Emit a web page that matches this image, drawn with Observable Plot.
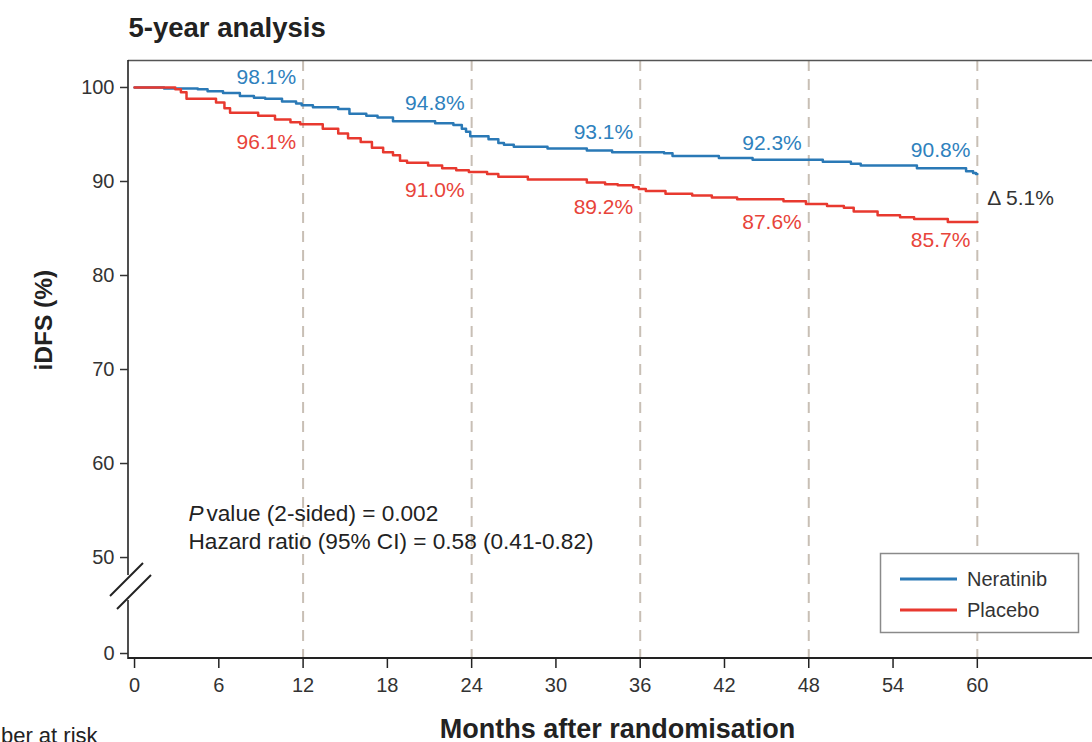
<!DOCTYPE html>
<html>
<head>
<meta charset="utf-8">
<script src="https://cdn.jsdelivr.net/npm/d3@7"></script>
<script src="https://cdn.jsdelivr.net/npm/@observablehq/plot@0.6"></script>
<style>
  html, body { margin: 0; padding: 0; background: #fff; overflow: hidden; }
  #chart { width: 1092px; height: 742px; overflow: hidden; }
</style>
</head>
<body>
<div id="chart"></div>
<script>
// Kaplan–Meier step points: month at which each step starts, iDFS (%) from then on
const neratinibMonths = [0, 2.1, 4.5, 5.2, 6.3, 7.5, 8.5, 9.3, 10.5, 11.5, 11.9, 12.7, 14.5, 15.3, 16.5, 17.3, 18.4, 21.4, 22.7, 23.3, 23.6, 23.9, 25.2, 25.9, 26.3, 27.0, 29.4, 32.2, 34.0, 37.7, 38.3, 41.6, 44.0, 49.0, 51.0, 51.7, 55.7, 59.2, 59.7, 59.9, 60];
const neratinibIDFS   = [100, 99.9, 99.8, 99.6, 99.4, 99.1, 98.9, 98.8, 98.5, 98.3, 98.1, 97.9, 97.7, 97.2, 97.0, 96.8, 96.4, 96.2, 96.0, 95.6, 95.3, 94.8, 94.5, 94.1, 93.9, 93.7, 93.5, 93.3, 93.1, 93.0, 92.7, 92.5, 92.3, 92.1, 91.9, 91.7, 91.4, 91.1, 90.9, 90.8, 90.8];

const placeboMonths = [0, 2.9, 3.3, 3.7, 5.8, 6.4, 6.8, 8.8, 10.0, 11.1, 11.8, 13.4, 14.5, 15.2, 16.1, 16.9, 17.7, 18.4, 18.9, 19.4, 20.9, 21.9, 22.9, 23.8, 25.1, 25.9, 28.0, 32.2, 33.5, 34.4, 35.5, 35.9, 36.4, 37.8, 39.7, 41.1, 42.9, 46.2, 47.8, 49.3, 50.5, 51.2, 52.9, 54.5, 55.5, 57.9, 60];
const placeboIDFS   = [100, 99.8, 99.5, 98.8, 98.4, 97.8, 97.3, 97.0, 96.6, 96.3, 96.1, 95.6, 95.1, 94.6, 94.2, 93.6, 93.1, 92.8, 92.2, 92.0, 91.7, 91.4, 91.2, 91.0, 90.8, 90.5, 90.2, 89.9, 89.7, 89.6, 89.4, 89.2, 89.0, 88.7, 88.5, 88.3, 88.1, 87.9, 87.6, 87.4, 87.2, 86.8, 86.4, 86.2, 86.0, 85.7, 85.7];

// Yearly landmark estimates
const landmarkMonths = [12, 24, 36, 48, 60];
const neratinibRates = [98.1, 94.8, 93.1, 92.3, 90.8];
const placeboRates   = [96.1, 91.0, 89.2, 87.6, 85.7];

const arms = ["Neratinib", "Placebo"];
const armColors = ["#2a79b6", "#e8392f"];
const armTextColors = ["#2e81bd", "#e8443a"];

const xTicks = [0, 6, 12, 18, 24, 30, 36, 42, 48, 54, 60];
const yTicks = [0, 50, 60, 70, 80, 90, 100];

const statLines = ["value (2-sided) = 0.002", "Hazard ratio (95% CI) = 0.58 (0.41-0.82)"];

// Broken y axis: 50–100 at full scale, 0–50 squeezed into about one 10-point band
const breakAt = 50;
const squeeze = 10.21 / 50;
const compress = v => (v >= breakAt ? v : breakAt - (breakAt - v) * squeeze);
const yDomainShown = [39.26, 102.87];
const xDomain = [-0.43, 68.2];

// Build tidy rows for the curves and landmark labels
const curveRows = [
  ...neratinibMonths.map((m, i) => ({arm: arms[0], month: m, idfs: neratinibIDFS[i]})),
  ...placeboMonths.map((m, i) => ({arm: arms[1], month: m, idfs: placeboIDFS[i]}))
];
// vertical nudges (px) that keep the labels clear of the curves
const neratinibLabelDy = [-28, -33, -20, -17, -24];
const placeboLabelDy = 18;
const neratinibLabels = landmarkMonths.map((m, i) => ({month: m, rate: neratinibRates[i], dy: neratinibLabelDy[i]}));
const placeboLabels = landmarkMonths.map((m, i) => ({month: m, rate: placeboRates[i]}));
const lastN = neratinibRates[neratinibRates.length - 1];
const lastP = placeboRates[placeboRates.length - 1];
const deltaLabel = {month: 60, idfs: (lastN + lastP) / 2, text: "\u0394 " + (lastN - lastP).toFixed(1) + "%"};

// Frame lines, plus the left axis drawn with a break below 50
function frameAndBrokenAxis(index, scales, values, dims) {
  const g = d3.create("svg:g").attr("fill", "none");
  const left = dims.marginLeft;
  const right = dims.width - dims.marginRight;
  const top = dims.marginTop;
  const bottom = dims.height - dims.marginBottom;
  const y50 = scales.y(compress(breakAt));
  const gapTop = y50 + 18;
  const gapBottom = y50 + 43;
  g.append("line").attr("x1", left).attr("x2", right).attr("y1", top + 0.5).attr("y2", top + 0.5)
    .attr("stroke", "#555").attr("stroke-width", 1.5);
  g.append("line").attr("x1", left).attr("x2", right).attr("y1", bottom).attr("y2", bottom)
    .attr("stroke", "#222").attr("stroke-width", 2);
  const axis = g.append("g").attr("stroke", "#222").attr("stroke-width", 1.6);
  axis.append("line").attr("x1", left).attr("x2", left).attr("y1", top).attr("y2", gapTop);
  axis.append("line").attr("x1", left).attr("x2", left).attr("y1", gapBottom).attr("y2", bottom + 1);
  const s1 = gapTop + 3, s2 = gapBottom - 2;
  axis.append("line").attr("x1", left - 18).attr("y1", s1 + 18).attr("x2", left + 15).attr("y2", s1 - 15).attr("stroke-width", 2);
  axis.append("line").attr("x1", left - 11).attr("y1", s2 + 11).attr("x2", left + 23).attr("y2", s2 - 23).attr("stroke-width", 2);
  return g.node();
}

// Boxed legend in the lower-right corner of the frame
function legendBox(index, scales, values, dims) {
  const right = dims.width - dims.marginRight - 14;
  const bottom = dims.height - dims.marginBottom - 26;
  const w = 198, h = 79;
  const g = d3.create("svg:g").attr("transform", `translate(${right - w},${bottom - h})`);
  g.append("rect").attr("x", 0.5).attr("y", 0.5).attr("width", w).attr("height", h)
    .attr("fill", "#fff").attr("stroke", "#8a8a8a").attr("stroke-width", 1.5);
  arms.forEach((arm, i) => {
    const yy = 26 + i * 31;
    g.append("line").attr("x1", 20).attr("x2", 77).attr("y1", yy).attr("y2", yy)
      .attr("stroke", armColors[i]).attr("stroke-width", 3);
    g.append("text").attr("x", 87).attr("y", yy).attr("dy", "0.35em")
      .attr("text-anchor", "start").attr("fill", "#333").attr("font-size", 20).text(arm);
  });
  return g.node();
}

const chart = Plot.plot({
  width: 1092,
  height: 742,
  marginLeft: 128,
  marginRight: 0,
  marginTop: 60,
  marginBottom: 84,
  style: {fontFamily: "'Liberation Sans', Arial, Helvetica, sans-serif", fontSize: "20px", background: "#fff", color: "#333"},
  x: {domain: xDomain},
  y: {domain: yDomainShown},
  color: {domain: arms, range: armColors},
  marks: [
    // landmark reference lines
    Plot.ruleX(landmarkMonths, {stroke: "#c8bfb5", strokeWidth: 2, strokeDasharray: "11,8"}),
    frameAndBrokenAxis,
    // ticks sit at the compressed positions and are labelled with the raw values
    Plot.axisY({ticks: yTicks.map(compress), tickFormat: v => String(yTicks[yTicks.map(compress).indexOf(v)]), tickSize: 8, tickPadding: 6, fontSize: 20, stroke: "#333", strokeWidth: 1.5, fill: "#333", label: null}),
    Plot.axisX({ticks: xTicks, tickSize: 10, tickPadding: 9, fontSize: 20, stroke: "#222", strokeWidth: 1.5, fill: "#333", label: null}),
    // survival curves
    Plot.line(curveRows, {x: "month", y: d => compress(d.idfs), z: "arm", stroke: "arm", strokeWidth: 2.5, curve: "step-after"}),
    // landmark labels
    ...neratinibLabels.map(d => Plot.text([d], {x: "month", y: d => compress(d.rate), text: d => d.rate.toFixed(1) + "%", dy: d.dy, textAnchor: "end", dx: -7, fill: armTextColors[0], fontSize: 21})),
    Plot.text(placeboLabels, {x: "month", y: d => compress(d.rate), text: d => d.rate.toFixed(1) + "%", dy: placeboLabelDy, textAnchor: "end", dx: -7, fill: armTextColors[1], fontSize: 21}),
    Plot.text([deltaLabel], {x: "month", y: d => compress(d.idfs), text: "text", textAnchor: "start", dx: 10, fill: "#333", fontSize: 21}),
    // statistics
    Plot.text(["P"], {text: d => d, frameAnchor: "bottom-left", lineAnchor: "middle", dx: 60, dy: -145, textAnchor: "start", fontStyle: "italic", fontSize: 22.6, fill: "#222"}),
    Plot.text([statLines[0]], {text: d => d, frameAnchor: "bottom-left", lineAnchor: "middle", dx: 78, dy: -145, textAnchor: "start", fontSize: 22.6, fill: "#222"}),
    Plot.text([statLines[1]], {text: d => d, frameAnchor: "bottom-left", lineAnchor: "middle", dx: 60, dy: -117, textAnchor: "start", fontSize: 22.6, fill: "#222"}),
    legendBox,
    // titles
    Plot.text(["5-year analysis"], {text: d => d, frameAnchor: "top-left", lineAnchor: "middle", dy: -32, textAnchor: "start", fontWeight: "bold", fontSize: 27.5, fill: "#222"}),
    Plot.text(["iDFS (%)"], {text: d => d, frameAnchor: "left", lineAnchor: "middle", dx: -84, dy: 11, rotate: -90, fontWeight: "bold", fontSize: 24.5, fill: "#222"}),
    Plot.text(["Months after randomisation"], {text: d => d, frameAnchor: "bottom", lineAnchor: "middle", dx: 7, dy: 71, fontWeight: "bold", fontSize: 27, fill: "#222"}),
    Plot.text(["Number at risk"], {text: d => d, frameAnchor: "bottom-left", lineAnchor: "middle", dx: -174, dy: 77, textAnchor: "start", fontSize: 22, fill: "#222"})
  ]
});

document.getElementById("chart").appendChild(chart);
</script>
</body>
</html>
